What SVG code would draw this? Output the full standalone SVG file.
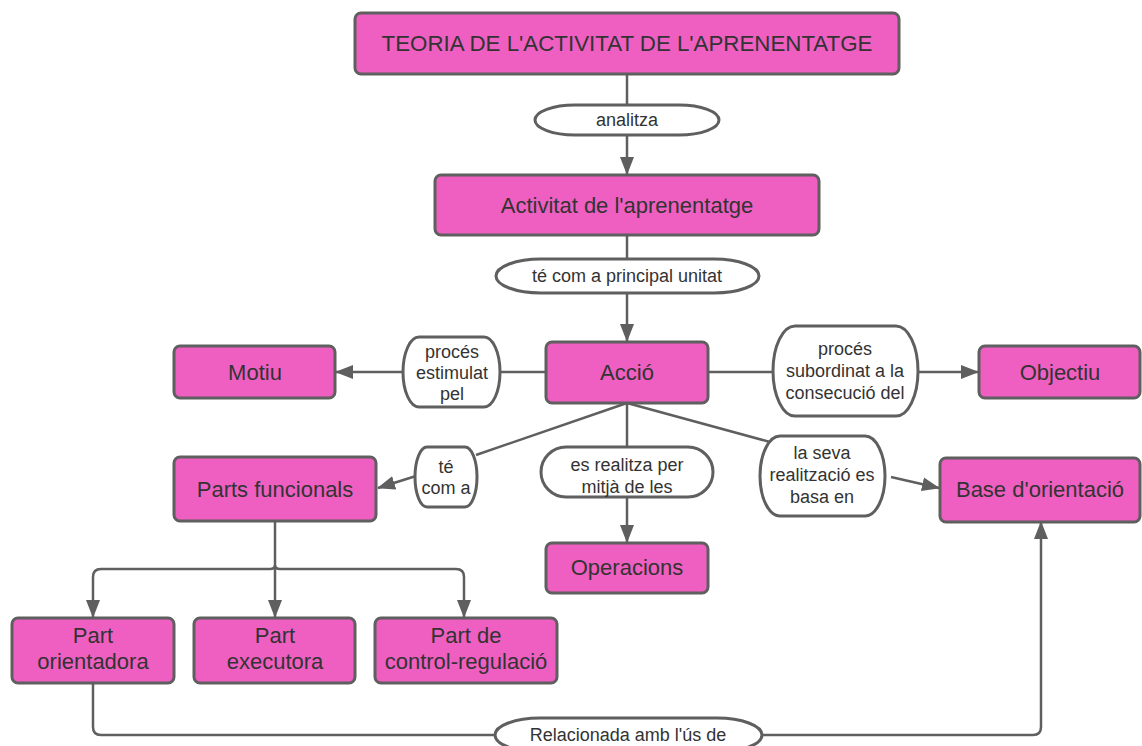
<svg xmlns="http://www.w3.org/2000/svg" width="1142" height="746" viewBox="0 0 1142 746">
<defs>
<style>
.n{fill:#EF5FC1;stroke:#5F5F5F;stroke-width:3}
.l{fill:#FFFFFF;stroke:#5F5F5F;stroke-width:3}
.c{fill:none;stroke:#5F5F5F;stroke-width:2.5}
.t{font-family:"Liberation Sans",Arial,sans-serif;font-size:22px;fill:#333333;text-anchor:middle}
.tt{font-family:"Liberation Sans",Arial,sans-serif;font-size:22.3px;fill:#333333;text-anchor:middle}
.lt{font-family:"Liberation Sans",Arial,sans-serif;font-size:18px;fill:#333333;text-anchor:middle}
</style>
<marker id="arr" markerWidth="18" markerHeight="14" refX="17" refY="7" orient="auto" markerUnits="userSpaceOnUse">
<path d="M0,0 L18,7 L0,14 z" fill="#5F5F5F"/>
</marker>
</defs>
<rect width="1142" height="746" fill="#FFFFFF"/>
<g id="connectors">
<path class="c" d="M627,74 V105"/>
<path class="c" d="M627,135 V174" marker-end="url(#arr)"/>
<path class="c" d="M627,235 V259"/>
<path class="c" d="M627,293 V341" marker-end="url(#arr)"/>
<path class="c" d="M546,372 H403"/>
<path class="c" d="M403,372 H336" marker-end="url(#arr)"/>
<path class="c" d="M708,372 H918"/>
<path class="c" d="M918,372 H978" marker-end="url(#arr)"/>
<path class="c" d="M627,403 L476,455"/>
<path class="c" d="M416,476 L378,488" marker-end="url(#arr)"/>
<path class="c" d="M627,403 V447"/>
<path class="c" d="M627,497 V542" marker-end="url(#arr)"/>
<path class="c" d="M627,403 L770,442"/>
<path class="c" d="M891,477 L939,488" marker-end="url(#arr)"/>
<path class="c" d="M275,521 V617" marker-end="url(#arr)"/>
<path class="c" d="M270,569 H101 Q93,569 93,577 V617" marker-end="url(#arr)"/>
<path class="c" d="M270,569 Q275,569 275,565 Q275,569 280,569"/>
<path class="c" d="M280,569 H456 Q464,569 464,577 V617" marker-end="url(#arr)"/>
<path class="c" d="M93,683 V727 Q93,735 101,735 H495"/>
<path class="c" d="M762,735 H1033 Q1041,735 1041,727 V522" marker-end="url(#arr)"/>
</g>
<g id="n-teoria">
<rect class="n" x="355" y="13" width="544" height="61" rx="6"/>
<text class="tt" x="627" y="51">TEORIA DE L'ACTIVITAT DE L'APRENENTATGE</text>
</g>
<g id="l-analitza">
<rect class="l" x="535" y="105" width="184" height="30" rx="40" ry="15"/>
<text class="lt" x="627" y="126">analitza</text>
</g>
<g id="n-activitat">
<rect class="n" x="435" y="175" width="384" height="60" rx="6"/>
<text class="t" x="627" y="213">Activitat de l'aprenentatge</text>
</g>
<g id="l-principal">
<rect class="l" x="496" y="259" width="263" height="34" rx="45" ry="17"/>
<text class="lt" x="627" y="282">té com a principal unitat</text>
</g>
<g id="n-accio">
<rect class="n" x="546" y="342" width="162" height="61" rx="6"/>
<text class="t" x="627" y="380">Acció</text>
</g>
<g id="n-motiu">
<rect class="n" x="174" y="346" width="161" height="52" rx="6"/>
<text class="t" x="255" y="380">Motiu</text>
</g>
<g id="l-estimulat">
<rect class="l" x="403" y="337" width="97" height="70" rx="16" ry="35"/>
<text class="lt" x="452" y="358">procés</text>
<text class="lt" x="452" y="379">estimulat</text>
<text class="lt" x="452" y="400">pel</text>
</g>
<g id="l-subordinat">
<rect class="l" x="773" y="326" width="145" height="90" rx="22" ry="45"/>
<text class="lt" x="845" y="355">procés</text>
<text class="lt" x="845" y="377">subordinat a la</text>
<text class="lt" x="845" y="399">consecució del</text>
</g>
<g id="n-objectiu">
<rect class="n" x="979" y="346" width="161" height="52" rx="6"/>
<text class="t" x="1060" y="380">Objectiu</text>
</g>
<g id="l-tecoma">
<rect class="l" x="415" y="447" width="62" height="60" rx="12" ry="30"/>
<text class="lt" x="446" y="473">té</text>
<text class="lt" x="446" y="494">com a</text>
</g>
<g id="n-parts">
<rect class="n" x="174" y="457" width="202" height="64" rx="6"/>
<text class="t" x="275" y="497">Parts funcionals</text>
</g>
<g id="l-realitza">
<rect class="l" x="541" y="447" width="172" height="50" rx="25" ry="25"/>
<text class="lt" x="627" y="471">es realitza per</text>
<text class="lt" x="627" y="493">mitjà de les</text>
</g>
<g id="n-operacions">
<rect class="n" x="546" y="543" width="162" height="50" rx="6"/>
<text class="t" x="627" y="575">Operacions</text>
</g>
<g id="l-basa">
<rect class="l" x="760" y="436" width="125" height="80" rx="20" ry="40"/>
<text class="lt" x="822" y="459">la seva</text>
<text class="lt" x="822" y="481">realització es</text>
<text class="lt" x="822" y="503">basa en</text>
</g>
<g id="n-base">
<rect class="n" x="940" y="458" width="200" height="64" rx="6"/>
<text class="t" x="1040" y="497">Base d'orientació</text>
</g>
<g id="n-orientadora">
<rect class="n" x="12" y="618" width="162" height="65" rx="6"/>
<text class="t" x="93" y="643">Part</text>
<text class="t" x="93" y="669">orientadora</text>
</g>
<g id="n-executora">
<rect class="n" x="194" y="618" width="161" height="65" rx="6"/>
<text class="t" x="275" y="643">Part</text>
<text class="t" x="275" y="669">executora</text>
</g>
<g id="n-control">
<rect class="n" x="375" y="618" width="182" height="65" rx="6"/>
<text class="t" x="466" y="643">Part de</text>
<text class="t" x="466" y="669">control-regulació</text>
</g>
<g id="l-relacionada">
<rect class="l" x="495" y="718" width="267" height="34" rx="45" ry="17"/>
<text class="lt" x="628" y="741">Relacionada amb l'ús de</text>
</g>
</svg>
